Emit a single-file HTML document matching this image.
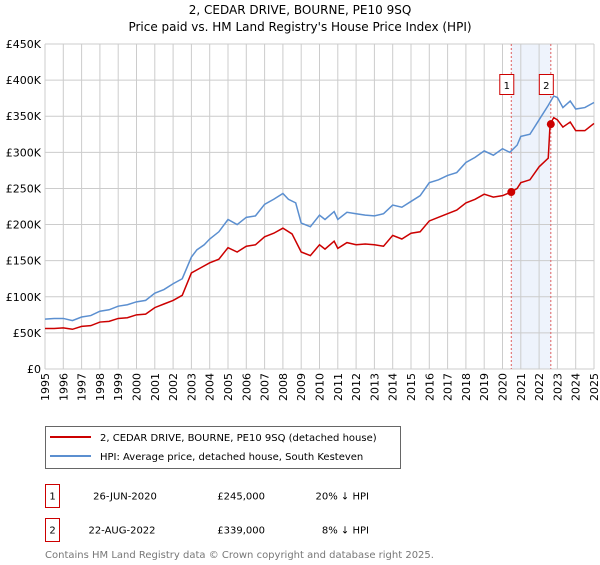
<!DOCTYPE html>
<html><head><meta charset="utf-8"><style>
body{margin:0;background:#fff;font-family:"Liberation Sans","DejaVu Sans",sans-serif}
svg text{font-family:"DejaVu Sans","Liberation Sans",sans-serif}
</style></head><body>
<svg width="600" height="560" viewBox="0 0 600 560">
<text x="300" y="14" font-size="12" text-anchor="middle">2, CEDAR DRIVE, BOURNE, PE10 9SQ</text>
<text x="300" y="31" font-size="12" text-anchor="middle">Price paid vs. HM Land Registry's House Price Index (HPI)</text>
<g id="grid"></g><g id="series"></g><g id="axes"></g>
<g>
<rect x="45.5" y="426.5" width="355" height="42" fill="#fff" stroke="#666"/>
<line x1="50" y1="437" x2="91" y2="437" stroke="#cc0000" stroke-width="2"/>
<text x="100" y="441" font-size="10">2, CEDAR DRIVE, BOURNE, PE10 9SQ (detached house)</text>
<line x1="50" y1="456" x2="91" y2="456" stroke="#5b8fd0" stroke-width="2"/>
<text x="100" y="460" font-size="10">HPI: Average price, detached house, South Kesteven</text>
</g>
<g font-size="10">
<rect x="45.5" y="484.5" width="14" height="23" fill="#fff" stroke="#cc0000"/>
<text x="52.5" y="499.5" text-anchor="middle">1</text>
<text x="125" y="499.5" text-anchor="middle">26-JUN-2020</text>
<text x="265" y="499.5" text-anchor="end">£245,000</text>
<text x="369" y="499.5" text-anchor="end">20% ↓ HPI</text>
<rect x="45.5" y="518.5" width="14" height="23" fill="#fff" stroke="#cc0000"/>
<text x="52.5" y="533.5" text-anchor="middle">2</text>
<text x="122" y="533.5" text-anchor="middle">22-AUG-2022</text>
<text x="265" y="533.5" text-anchor="end">£339,000</text>
<text x="369" y="533.5" text-anchor="end">8% ↓ HPI</text>
</g>
<text x="45" y="558" font-size="10" fill="#777">Contains HM Land Registry data © Crown copyright and database right 2025.</text>
<text x="45" y="569" font-size="10" fill="#777">This data is licensed under the Open Government Licence v3.0.</text>
</svg>
<script>
const yTicks=[0,50,100,150,200,250,300,350,400,450];
const yTickLabels=["£0","£50K","£100K","£150K","£200K","£250K","£300K","£350K","£400K","£450K"];
const xYears=[1995,1996,1997,1998,1999,2000,2001,2002,2003,2004,2005,2006,2007,2008,2009,2010,2011,2012,2013,2014,2015,2016,2017,2018,2019,2020,2021,2022,2023,2024,2025];
const hpiDates=[1995,1995.5,1996,1996.5,1997,1997.5,1998,1998.5,1999,1999.5,2000,2000.5,2001,2001.5,2002,2002.5,2003,2003.3,2003.7,2004,2004.5,2005,2005.5,2006,2006.5,2007,2007.5,2008,2008.3,2008.7,2009,2009.5,2010,2010.3,2010.8,2011,2011.5,2012,2012.5,2013,2013.5,2014,2014.5,2015,2015.5,2016,2016.5,2017,2017.5,2018,2018.5,2019,2019.5,2020,2020.4,2020.8,2021,2021.5,2022,2022.5,2022.8,2023,2023.3,2023.7,2024,2024.5,2025];
const hpiValues=[69,70,70,67,72,74,80,82,87,89,93,95,105,110,118,125,155,165,172,180,190,207,200,210,212,228,235,243,235,230,202,197,213,207,218,207,217,215,213,212,215,227,224,232,240,258,262,268,272,286,293,302,296,305,300,310,322,325,345,365,378,376,362,371,360,362,369];
const priceDates=[1995,1995.5,1996,1996.5,1997,1997.5,1998,1998.5,1999,1999.5,2000,2000.5,2001,2001.5,2002,2002.5,2003,2003.5,2004,2004.5,2005,2005.5,2006,2006.5,2007,2007.5,2008,2008.5,2009,2009.5,2010,2010.3,2010.8,2011,2011.5,2012,2012.5,2013,2013.5,2014,2014.5,2015,2015.5,2016,2016.5,2017,2017.5,2018,2018.5,2019,2019.5,2020,2020.48,2020.8,2021,2021.5,2022,2022.5,2022.6,2022.8,2023,2023.3,2023.7,2024,2024.5,2025];
const priceValues=[56,56,57,55,59,60,65,66,70,71,75,76,85,90,95,102,133,140,147,152,168,162,170,172,183,188,195,187,162,157,172,166,177,167,175,172,173,172,170,185,180,188,190,205,210,215,220,230,235,242,238,240,245,250,258,262,280,292,339,348,345,335,342,330,330,340];
const saleDates=[2020.48,2022.64];
const saleValues=[245,339];
const saleLabels=["1","2"];
const NS="http://www.w3.org/2000/svg";
const X0=45,X1=594,Y0=369,Y1=44;
const xs=d=>X0+(d-1995)/30*(X1-X0);
const ys=v=>Y0-v/450*(Y0-Y1);
function mk(tag,attrs,parent){const e=document.createElementNS(NS,tag);for(const k in attrs)e.setAttribute(k,attrs[k]);parent.appendChild(e);return e;}
const grid=document.getElementById('grid'),ser=document.getElementById('series'),ax=document.getElementById('axes');
const shade=mk('rect',{x:xs(saleDates[0]),y:Y1,width:xs(saleDates[1])-xs(saleDates[0]),height:Y0-Y1,fill:'#eef3fc'},grid);


yTicks.forEach((v,i)=>{
 const l=mk('line',{x1:X0,x2:X1,y1:ys(v),y2:ys(v),stroke:'#ccc'},grid);
 
 
 const t=mk('text',{x:X0-4,y:ys(v)+4,'font-size':11,'text-anchor':'end'},ax);
 t.textContent=yTickLabels[i];
 
 
});
xYears.forEach(y=>{
 const l=mk('line',{x1:xs(y),x2:xs(y),y1:Y1,y2:Y0,stroke:'#ccc'},grid);
 
 
 const t=mk('text',{x:0,y:0,'font-size':11,'text-anchor':'end',transform:`translate(${xs(y)+4},${Y0+4}) rotate(-90)`},ax);
 t.textContent=y;
 
 
});
saleDates.forEach((d,i)=>{
 const l=mk('line',{x1:xs(d),x2:xs(d),y1:Y1,y2:Y0,stroke:'#e06060','stroke-dasharray':'2,2'},grid);
 
 
 const r=mk('rect',{x:xs(d)-11.5,y:74.5,width:14,height:20,fill:'#fff',stroke:'#cc0000'},ax);
 
 
 const t=mk('text',{x:xs(d)-4.5,y:89,'font-size':10,'text-anchor':'middle'},ax);
 t.textContent=saleLabels[i];
 
 
});
const hp=mk('polyline',{points:hpiDates.map((d,i)=>xs(d)+','+ys(hpiValues[i])).join(' '),fill:'none',stroke:'#5b8fd0','stroke-width':1.5},ser);


const pp=mk('polyline',{points:priceDates.map((d,i)=>xs(d)+','+ys(priceValues[i])).join(' '),fill:'none',stroke:'#cc0000','stroke-width':1.5},ser);


saleDates.forEach((d,i)=>{
 const c=mk('circle',{cx:xs(d),cy:ys(saleValues[i]),r:4,fill:'#cc0000'},ser);
 
 
});
</script>
</body></html>
